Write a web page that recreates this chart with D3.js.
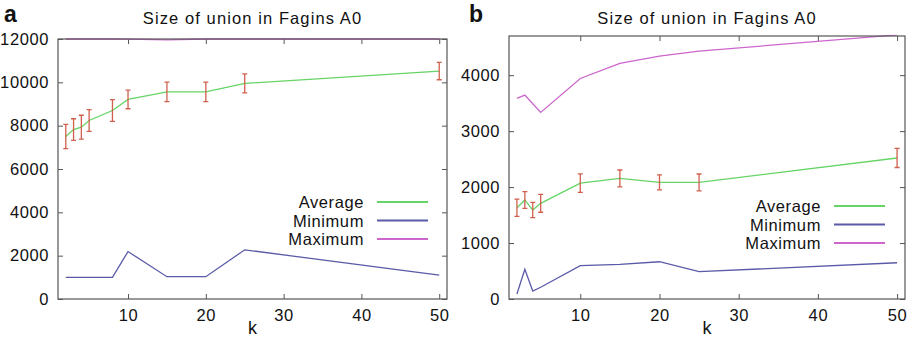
<!DOCTYPE html>
<html>
<head>
<meta charset="utf-8">
<script src="https://cdn.jsdelivr.net/npm/d3@7"></script>
<style>
  html, body { margin: 0; padding: 0; background: #fff; }
  svg text { font-family: "Liberation Sans", Arial, sans-serif; fill: #111; }
</style>
</head>
<body>
<svg id="chart" width="914" height="343"></svg>
<script>
// Size of the union in Fagin's A0 against k, two experiments (a, b)
const titleText = "Size of union in Fagins A0";
const seriesNames = ["Average", "Minimum", "Maximum"];
const seriesColors = ["#66d466", "#5a5aa8", "#cc66cc"];
const errColor = "#d0604c";

// Panel a
const kA = [2, 3, 4, 5, 8, 10, 15, 20, 25, 50];
const avgA = [7500, 7820, 7930, 8240, 8700, 9210, 9560, 9560, 9950, 10520];
const errA = [560, 500, 550, 500, 500, 430, 450, 450, 440, 400];
const minA = [1000, 1000, 1000, 1000, 1000, 2190, 1030, 1030, 2270, 1100];
const maxA = [12000, 12000, 12000, 12000, 12000, 11990, 11960, 12000, 12000, 12000];
const yTicksA = [0, 2000, 4000, 6000, 8000, 10000, 12000];

// Panel b
const kB = [2, 3, 4, 5, 10, 15, 20, 25, 50];
const avgB = [1630, 1770, 1590, 1710, 2070, 2155, 2084, 2084, 2520];
const errB = [155, 150, 135, 160, 165, 150, 135, 150, 170];
const minB = [90, 530, 143, 210, 595, 620, 666, 488, 648];
const maxB = [3584, 3643, 3490, 3334, 3941, 4209, 4340, 4430, 4720];
const yTicksB = [0, 1000, 2000, 3000, 4000];

const xTicks = [10, 20, 30, 40, 50];

const svg = d3.select("#chart");
const fmt = d3.format("d");

function drawPanel(cfg) {
  const g = svg.append("g");
  const x = d3.scaleLinear().domain([1, 51]).range([cfg.left, cfg.right]);
  const y = d3.scaleLinear().domain(cfg.yDomain).range([cfg.bottom, cfg.top]);

  // clip region for the data lines (a hair above the frame so a line on the top edge stays visible)
  const clipId = "clip-" + cfg.label;
  svg.append("defs").append("clipPath").attr("id", clipId)
    .append("rect")
    .attr("x", cfg.left).attr("y", cfg.top - 1.2)
    .attr("width", cfg.right - cfg.left).attr("height", cfg.bottom - cfg.top + 1.2);

  // panel letter and title
  g.append("text").attr("x", cfg.labelX).attr("y", 22)
    .attr("font-size", 23).attr("font-weight", "bold").text(cfg.label);
  g.append("text").attr("x", (cfg.left + cfg.right) / 2).attr("y", 24)
    .attr("text-anchor", "middle").attr("font-size", 16.5)
    .attr("letter-spacing", "1.1px").text(titleText);

  // axes with inward ticks, mirrored on top and right
  const axisStyle = sel => {
    sel.select(".domain").remove();
    sel.selectAll("line").attr("stroke", "#555");
    sel.selectAll("text").attr("font-size", 16.5).attr("fill", "#111").attr("letter-spacing", "0.6px");
  };
  g.append("g").attr("transform", `translate(0,${cfg.bottom})`)
    .call(d3.axisBottom(x).tickValues(xTicks).tickSizeInner(-5).tickSizeOuter(0).tickPadding(10).tickFormat(fmt))
    .call(axisStyle);
  g.append("g").attr("transform", `translate(0,${cfg.top})`)
    .call(d3.axisTop(x).tickValues(xTicks).tickSizeInner(-5).tickSizeOuter(0).tickFormat(""))
    .call(axisStyle);
  g.append("g").attr("transform", `translate(${cfg.left},0)`)
    .call(d3.axisLeft(y).tickValues(cfg.yTicks).tickSizeInner(-5).tickSizeOuter(0).tickPadding(9).tickFormat(fmt))
    .call(axisStyle);
  g.append("g").attr("transform", `translate(${cfg.right},0)`)
    .call(d3.axisRight(y).tickValues(cfg.yTicks).tickSizeInner(-5).tickSizeOuter(0).tickFormat(""))
    .call(axisStyle);

  g.append("text").attr("x", (cfg.left + cfg.right) / 2).attr("y", 334)
    .attr("text-anchor", "middle").attr("font-size", 18).text("k");

  // data lines
  const line = d3.line().x(d => x(d[0])).y(d => y(d[1]));
  const data = g.append("g").attr("clip-path", `url(#${clipId})`);
  const seriesVals = [cfg.avg, cfg.min, cfg.max];
  seriesVals.forEach((vals, i) => {
    data.append("path")
      .datum(cfg.k.map((k, j) => [k, vals[j]]))
      .attr("d", line).attr("fill", "none")
      .attr("stroke", seriesColors[i]).attr("stroke-width", 1.3);
  });

  // error bars on the average
  const eb = data.selectAll(".eb").data(cfg.k.map((k, j) => ({ k, v: cfg.avg[j], e: cfg.err[j] })))
    .enter().append("g").attr("stroke", errColor).attr("stroke-width", 1.3);
  eb.append("line").attr("x1", d => x(d.k)).attr("x2", d => x(d.k))
    .attr("y1", d => y(d.v - d.e)).attr("y2", d => y(d.v + d.e));
  eb.append("line").attr("x1", d => x(d.k) - 2.5).attr("x2", d => x(d.k) + 2.5)
    .attr("y1", d => y(d.v + d.e)).attr("y2", d => y(d.v + d.e));
  eb.append("line").attr("x1", d => x(d.k) - 2.5).attr("x2", d => x(d.k) + 2.5)
    .attr("y1", d => y(d.v - d.e)).attr("y2", d => y(d.v - d.e));

  // frame
  g.append("rect").attr("x", cfg.left).attr("y", cfg.top)
    .attr("width", cfg.right - cfg.left).attr("height", cfg.bottom - cfg.top)
    .attr("fill", "none").attr("stroke", "#555").attr("stroke-width", 1.2);

  // legend
  seriesNames.forEach((name, i) => {
    const ly = cfg.legendY + i * 18.5;
    g.append("text").attr("x", cfg.legendTextX).attr("y", ly + 6)
      .attr("text-anchor", "end").attr("font-size", 16.5).attr("letter-spacing", "0.6px").text(name);
    g.append("line").attr("x1", cfg.legendLineX).attr("x2", cfg.legendLineX + 51)
      .attr("y1", ly).attr("y2", ly)
      .attr("stroke", seriesColors[i]).attr("stroke-width", 2);
  });
}

drawPanel({
  label: "a", labelX: 4, left: 58, right: 447, top: 39, bottom: 299,
  yDomain: [0, 12000], yTicks: yTicksA,
  k: kA, avg: avgA, err: errA, min: minA, max: maxA,
  legendY: 202, legendTextX: 364, legendLineX: 377
});

drawPanel({
  label: "b", labelX: 469, left: 509, right: 905, top: 36, bottom: 299,
  yDomain: [0, 4700], yTicks: yTicksB,
  k: kB, avg: avgB, err: errB, min: minB, max: maxB,
  legendY: 206, legendTextX: 821, legendLineX: 834
});
</script>
</body>
</html>
